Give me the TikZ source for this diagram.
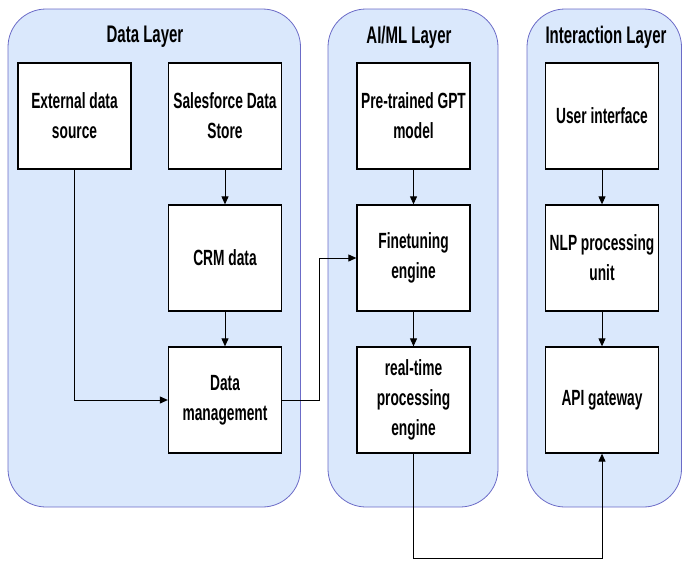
\documentclass[tikz,border=0pt]{standalone}
\usepackage{fontspec}
\setmainfont{Liberation Sans}[FakeStretch=0.625,BoldFont={Liberation Sans Bold}]
\usetikzlibrary{arrows.meta}
\begin{document}
\begin{tikzpicture}[x=1pt,y=-1pt,
  layer/.style={draw=blue!45!gray!80, line width=0.8pt, fill={rgb,255:red,218;green,232;blue,252}, rounded corners=38pt},
  box/.style={draw=black, line width=1.3pt, fill=white, minimum width=113pt, minimum height=106pt, inner sep=0pt, align=center, font=\fontsize{22}{30}\selectfont\bfseries},
  ttl/.style={font=\fontsize{24}{28}\selectfont\bfseries, inner sep=0pt},
  conn/.style={draw=black, line width=1pt, -{Triangle[length=8pt,width=7pt]}},
  plain/.style={draw=black, line width=1pt}]
\useasboundingbox (0,0) rectangle (682,560);
% containers
\path[layer] (8,9) rectangle (300.5,507);
\path[layer] (328,9) rectangle (498,507);
\path[layer] (527,9) rectangle (681.5,507);
\node[ttl] (tdata) at (145,37) {Data Layer};
\node[ttl] (tai) at (409,37) {AI/ML Layer};
\node[ttl] (tint) at (606,37) {Interaction Layer};
% boxes
\node[box] (ext) at (74.5,116) {External data\\source};
\node[box] (sfd) at (225,116) {Salesforce Data\\Store};
\node[box] (crm) at (225,258) {CRM data};
\node[box] (dm) at (225,400) {Data\\management};
\node[box] (gpt) at (413.5,116) {Pre-trained GPT\\model};
\node[box] (ft) at (413.5,258) {Finetuning\\engine};
\node[box] (rt) at (413.5,400) {real-time\\processing\\engine};
\node[box] (ui) at (602,116) {User interface};
\node[box] (nlp) at (602,258) {NLP processing\\unit};
\node[box] (api) at (602,400) {API gateway};
% connectors
\coordinate (c1) at (319,400);
\coordinate (c2) at (319,258);
\coordinate (c3) at (413.5,558);
\coordinate (c4) at (602,558);
\draw[conn] (sfd) -- (crm);
\draw[conn] (crm) -- (dm);
\draw[conn] (ext.south) |- (dm.west);
\draw[conn] (dm.east) -- (c1) -- (c2) -- (ft.west);
\draw[conn] (gpt) -- (ft);
\draw[conn] (ft) -- (rt);
\draw[conn] (ui) -- (nlp);
\draw[conn] (nlp) -- (api);
\draw[conn] (rt.south) -- (c3) -- (c4) -- (api.south);
\end{tikzpicture}
\end{document}
